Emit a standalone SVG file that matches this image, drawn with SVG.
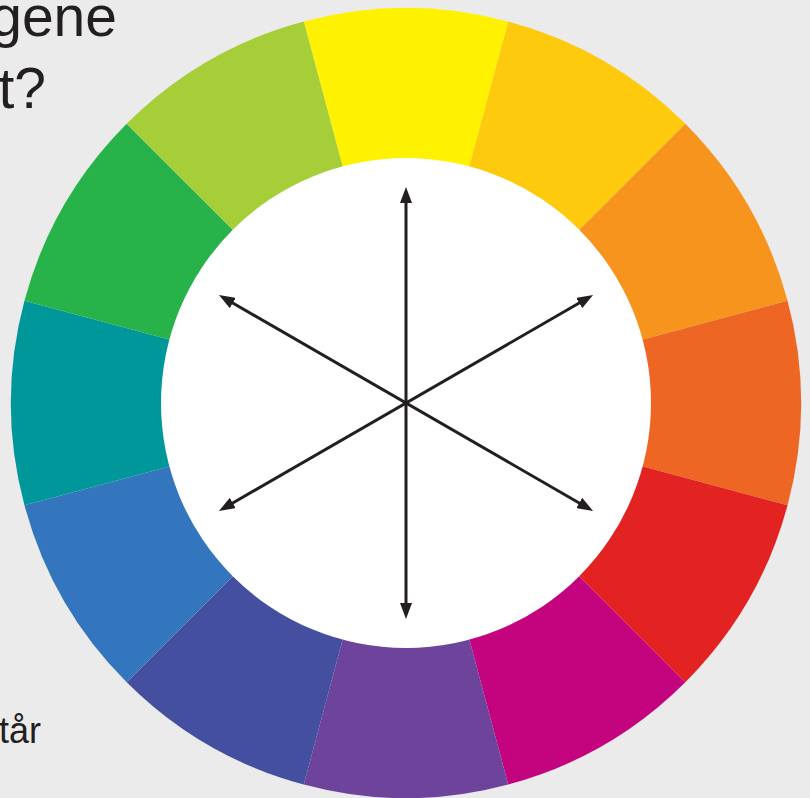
<svg xmlns="http://www.w3.org/2000/svg" width="810" height="798" viewBox="0 0 810 798">
<style>
.txt{font-family:"Liberation Sans",Arial,sans-serif;fill:#231F20}
.arr{stroke:#231F20;stroke-width:3;fill:none;marker-start:url(#ah);marker-end:url(#ah)}
</style>
<defs>
<marker id="ah" markerUnits="userSpaceOnUse" markerWidth="16" markerHeight="12" refX="6" refY="6" orient="auto-start-reverse" viewBox="0 0 16 12">
<path d="M0,0 L16,6 L0,12 Z" fill="#231F20"/>
</marker>
</defs>
<rect width="810" height="798" fill="#EBEBEB"/>
<g id="text">
<text class="txt" x="117" y="36" font-size="57" text-anchor="end">gene</text>
<text class="txt" x="46" y="108" font-size="57" text-anchor="end">t?</text>
<text class="txt" x="41" y="743" font-size="36" text-anchor="end">tår</text>
</g>
<g id="wheel">
<g id="seg-yellow"><path d="M406,403 L303.77,21.46 A395,395 0 0 1 508.23,21.46 Z" fill="#FFF200"/></g>
<g id="seg-gold"><path d="M406,403 L508.23,21.46 A395,395 0 0 1 685.31,123.69 Z" fill="#FDCA0D"/></g>
<g id="seg-orange"><path d="M406,403 L685.31,123.69 A395,395 0 0 1 787.54,300.77 Z" fill="#F7941E"/></g>
<g id="seg-redorange"><path d="M406,403 L787.54,300.77 A395,395 0 0 1 787.54,505.23 Z" fill="#EE6624"/></g>
<g id="seg-red"><path d="M406,403 L787.54,505.23 A395,395 0 0 1 685.31,682.31 Z" fill="#E22322"/></g>
<g id="seg-magenta"><path d="M406,403 L685.31,682.31 A395,395 0 0 1 508.23,784.54 Z" fill="#C4047E"/></g>
<g id="seg-purple"><path d="M406,403 L508.23,784.54 A395,395 0 0 1 303.77,784.54 Z" fill="#6E439B"/></g>
<g id="seg-violet"><path d="M406,403 L303.77,784.54 A395,395 0 0 1 126.69,682.31 Z" fill="#444F9F"/></g>
<g id="seg-blue"><path d="M406,403 L126.69,682.31 A395,395 0 0 1 24.46,505.23 Z" fill="#3476BE"/></g>
<g id="seg-teal"><path d="M406,403 L24.46,505.23 A395,395 0 0 1 24.46,300.77 Z" fill="#00979A"/></g>
<g id="seg-green"><path d="M406,403 L24.46,300.77 A395,395 0 0 1 126.69,123.69 Z" fill="#27B24A"/></g>
<g id="seg-yellowgreen"><path d="M406,403 L126.69,123.69 A395,395 0 0 1 303.77,21.46 Z" fill="#A5CE39"/></g>
<g id="center"><circle cx="406" cy="403" r="245" fill="#FFFFFF"/></g>
</g>
<g id="connectors">
<line class="arr" x1="406" y1="197" x2="406" y2="609"/>
<line class="arr" x1="227.6" y1="300" x2="584.4" y2="506"/>
<line class="arr" x1="227.6" y1="506" x2="584.4" y2="300"/>
</g>
</svg>
